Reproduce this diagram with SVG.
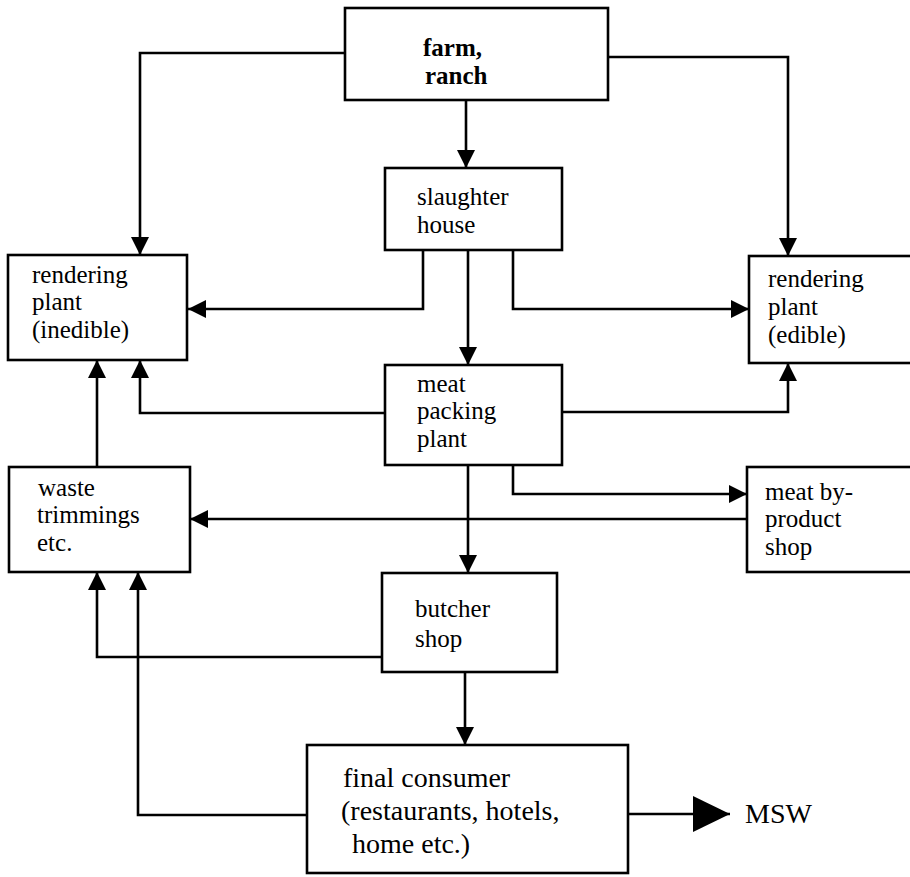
<svg xmlns="http://www.w3.org/2000/svg" width="910" height="877" viewBox="0 0 910 877">
<style>
.box{fill:#fff;stroke:#000;stroke-width:2.6}
.t{font-family:"Liberation Serif","Times New Roman",serif;font-size:25px;fill:#000}
.b{font-weight:bold}
.f{font-size:28px}
.c{fill:none;stroke:#000;stroke-width:2.6}
</style>
<defs>
<marker id="ah" markerUnits="userSpaceOnUse" markerWidth="20" markerHeight="20" viewBox="0 0 20 20" refX="19" refY="10" orient="auto">
<path d="M1,1 L19,10 L1,19 Z" fill="#000"/>
</marker>
<marker id="big" markerUnits="userSpaceOnUse" markerWidth="40" markerHeight="40" viewBox="0 0 40 40" refX="38" refY="20" orient="auto">
<path d="M1,2 L38,20 L1,38 Z" fill="#000"/>
</marker>
</defs>
<rect width="910" height="877" fill="#fff"/>
<g id="connectors">
<path class="c" d="M345,53 H140 V255" marker-end="url(#ah)"/>
<path class="c" d="M608,57 H788 V256" marker-end="url(#ah)"/>
<path class="c" d="M466,100 V168" marker-end="url(#ah)"/>
<path class="c" d="M423,250 V309 H188" marker-end="url(#ah)"/>
<path class="c" d="M513,250 V309 H749" marker-end="url(#ah)"/>
<path class="c" d="M468,250 V365" marker-end="url(#ah)"/>
<path class="c" d="M385,413 H140 V360" marker-end="url(#ah)"/>
<path class="c" d="M562,412 H788 V363" marker-end="url(#ah)"/>
<path class="c" d="M468,465 V573" marker-end="url(#ah)"/>
<path class="c" d="M513,465 V494 H747" marker-end="url(#ah)"/>
<path class="c" d="M747,519 H190" marker-end="url(#ah)"/>
<path class="c" d="M97,467 V360" marker-end="url(#ah)"/>
<path class="c" d="M382,657 H97 V572" marker-end="url(#ah)"/>
<path class="c" d="M307,815 H138 V572" marker-end="url(#ah)"/>
<path class="c" d="M465,672 V745" marker-end="url(#ah)"/>
<path class="c" d="M628,814 H730" marker-end="url(#big)"/>
</g>
<g id="farm">
<rect class="box" x="345" y="8" width="263" height="92"/>
<text class="t b" x="423" y="56">farm,</text>
<text class="t b" x="425" y="84">ranch</text>
</g>
<g id="slaughter">
<rect class="box" x="385" y="168" width="177" height="82"/>
<text class="t" x="417" y="205">slaughter</text>
<text class="t" x="417" y="233">house</text>
</g>
<g id="rendering-inedible">
<rect class="box" x="8" y="255" width="179" height="105"/>
<text class="t" x="32" y="283">rendering</text>
<text class="t" x="32" y="310">plant</text>
<text class="t" x="32" y="338">(inedible)</text>
</g>
<g id="rendering-edible">
<rect class="box" x="749" y="256" width="170" height="107"/>
<text class="t" x="768" y="287">rendering</text>
<text class="t" x="768" y="315">plant</text>
<text class="t" x="768" y="343">(edible)</text>
</g>
<g id="meat-packing">
<rect class="box" x="385" y="365" width="177" height="100"/>
<text class="t" x="417" y="392">meat</text>
<text class="t" x="417" y="419">packing</text>
<text class="t" x="417" y="447">plant</text>
</g>
<g id="waste">
<rect class="box" x="9" y="467" width="181" height="105"/>
<text class="t" x="38" y="496">waste</text>
<text class="t" x="37" y="523">trimmings</text>
<text class="t" x="37" y="551">etc.</text>
</g>
<g id="byproduct">
<rect class="box" x="747" y="467" width="172" height="105"/>
<text class="t" x="765" y="500">meat by-</text>
<text class="t" x="765" y="527">product</text>
<text class="t" x="765" y="555">shop</text>
</g>
<g id="butcher">
<rect class="box" x="382" y="573" width="175" height="99"/>
<text class="t" x="415" y="617">butcher</text>
<text class="t" x="415" y="647">shop</text>
</g>
<g id="consumer">
<rect class="box" x="307" y="745" width="321" height="128"/>
<text class="t f" x="343" y="787">final consumer</text>
<text class="t f" x="341" y="820">(restaurants, hotels,</text>
<text class="t f" x="352" y="853">home etc.)</text>
</g>
<g id="msw">
<text class="t f" x="745" y="823">MSW</text>
</g>
</svg>
